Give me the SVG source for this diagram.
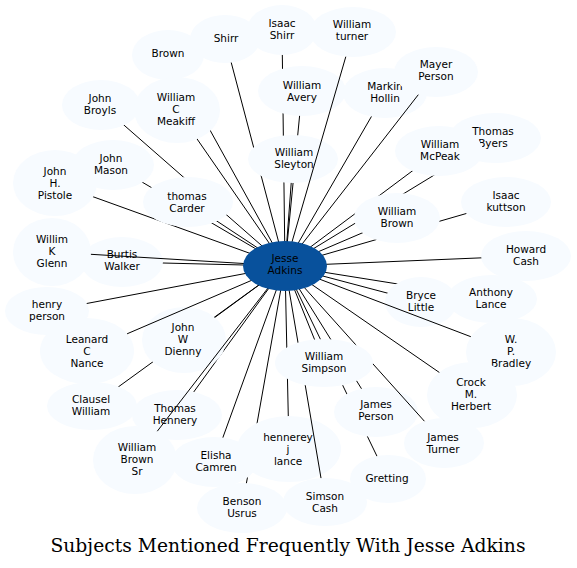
<svg xmlns="http://www.w3.org/2000/svg" width="577" height="568" viewBox="0 0 577 568">
<style>
.n ellipse{fill:#f7fbff;stroke:none}
#n_jesse ellipse{fill:#08519c}
text{font-family:"DejaVu Sans","Liberation Sans",sans-serif;font-size:10.5px;text-anchor:middle;fill:#000}
.e line{stroke:#000;stroke-width:1;fill:none}
.title{font-family:"DejaVu Serif","Liberation Serif",serif;font-size:18.5px}
</style>
<rect width="577" height="568" fill="#fff"/>
<g id="connectors" class="e">
<line x1="285" y1="266" x2="168" y2="54"/>
<line x1="285" y1="266" x2="225" y2="39"/>
<line x1="285" y1="266" x2="282" y2="30"/>
<line x1="285" y1="266" x2="302" y2="91"/>
<line x1="285" y1="266" x2="385" y2="93"/>
<line x1="285" y1="266" x2="101" y2="105"/>
<line x1="285" y1="266" x2="177" y2="110"/>
<line x1="285" y1="266" x2="293" y2="159"/>
<line x1="285" y1="266" x2="495" y2="138"/>
<line x1="285" y1="266" x2="439" y2="151"/>
<line x1="285" y1="266" x2="506" y2="202"/>
<line x1="285" y1="266" x2="113" y2="165"/>
<line x1="285" y1="266" x2="55" y2="183"/>
<line x1="285" y1="266" x2="188" y2="202"/>
<line x1="285" y1="266" x2="397" y2="218"/>
<line x1="285" y1="266" x2="526" y2="256"/>
<line x1="285" y1="266" x2="122" y2="262"/>
<line x1="285" y1="266" x2="47" y2="311"/>
<line x1="285" y1="266" x2="421" y2="302"/>
<line x1="285" y1="266" x2="492" y2="299"/>
<line x1="285" y1="266" x2="184" y2="340"/>
<line x1="285" y1="266" x2="324" y2="363"/>
<line x1="285" y1="266" x2="472" y2="395"/>
<line x1="285" y1="266" x2="92" y2="406"/>
<line x1="285" y1="266" x2="177" y2="415"/>
<line x1="285" y1="266" x2="376" y2="412"/>
<line x1="285" y1="266" x2="214" y2="462"/>
<line x1="285" y1="266" x2="289" y2="449"/>
<line x1="285" y1="266" x2="388" y2="479"/>
<line x1="285" y1="266" x2="242" y2="508"/>
</g>
<g id="n_brown" class="n"><ellipse cx="168" cy="55" rx="36" ry="25"/><text x="168" y="56.7">Brown</text></g>
<g id="n_shirr" class="n"><ellipse cx="225" cy="39" rx="35" ry="24"/><text x="226" y="41.7">Shirr</text></g>
<g id="n_isaac_shirr" class="n"><ellipse cx="282" cy="30" rx="35" ry="25"/><text x="282" y="26.7">Isaac</text><text x="282" y="38.7">Shirr</text></g>
<g id="n_william_turner" class="n"><ellipse cx="353" cy="32" rx="43" ry="25"/><text x="352" y="27.7">William</text><text x="352" y="39.7">turner</text></g>
<g id="n_william_avery" class="n"><ellipse cx="302" cy="91" rx="44" ry="25"/><text x="302" y="88.7">William</text><text x="302" y="100.7">Avery</text></g>
<g id="n_markin_hollin" class="n"><ellipse cx="385" cy="93" rx="42" ry="25"/><text x="385" y="89.7">Markin</text><text x="385" y="101.7">Hollin</text></g>
<g id="n_mayer_person" class="n"><ellipse cx="436" cy="72" rx="42" ry="25"/><text x="436" y="67.7">Mayer</text><text x="436" y="79.7">Person</text></g>
<g id="n_john_broyls" class="n"><ellipse cx="101" cy="105" rx="39" ry="25"/><text x="100" y="101.7">John</text><text x="100" y="113.7">Broyls</text></g>
<g id="n_william_c_meakiff" class="n"><ellipse cx="177" cy="110" rx="43" ry="33"/><text x="176" y="100.7">William</text><text x="176" y="112.7">C</text><text x="176" y="124.7">Meakiff</text></g>
<g id="n_william_sleyton" class="n"><ellipse cx="293" cy="159" rx="45" ry="24"/><text x="294" y="155.7">William</text><text x="294" y="167.7">Sleyton</text></g>
<g id="n_thomas_byers" class="n"><ellipse cx="495" cy="138" rx="46" ry="25"/><text x="493" y="134.7">Thomas</text><text x="493" y="146.7">Byers</text></g>
<g id="n_william_mcpeak" class="n"><ellipse cx="439" cy="151" rx="44" ry="25"/><text x="440" y="147.7">William</text><text x="440" y="159.7">McPeak</text></g>
<g id="n_isaac_kuttson" class="n"><ellipse cx="506" cy="202" rx="45" ry="25"/><text x="506" y="198.7">Isaac</text><text x="506" y="210.7">kuttson</text></g>
<g id="n_john_h_pistole" class="n"><ellipse cx="55" cy="183" rx="42" ry="33"/><text x="55" y="174.7">John</text><text x="55" y="186.7">H.</text><text x="55" y="198.7">Pistole</text></g>
<g id="n_john_mason" class="n"><ellipse cx="113" cy="165" rx="41" ry="25"/><text x="111" y="161.7">John</text><text x="111" y="173.7">Mason</text></g>
<g id="n_thomas_carder" class="n"><ellipse cx="188" cy="202" rx="45" ry="25"/><text x="187" y="199.7">thomas</text><text x="187" y="211.7">Carder</text></g>
<g id="n_william_brown" class="n"><ellipse cx="397" cy="218" rx="43" ry="25"/><text x="397" y="214.7">William</text><text x="397" y="226.7">Brown</text></g>
<g id="n_howard_cash" class="n"><ellipse cx="526" cy="256" rx="45" ry="25"/><text x="526" y="252.7">Howard</text><text x="526" y="264.7">Cash</text></g>
<g id="n_burtis_walker" class="n"><ellipse cx="122" cy="262" rx="41" ry="25"/><text x="122" y="257.7">Burtis</text><text x="122" y="269.7">Walker</text></g>
<g id="n_willim_k_glenn" class="n"><ellipse cx="52" cy="252" rx="39" ry="34"/><text x="52" y="242.7">Willim</text><text x="52" y="254.7">K</text><text x="52" y="266.7">Glenn</text></g>
<g id="n_henry_person" class="n"><ellipse cx="47" cy="311" rx="42" ry="24"/><text x="47" y="307.7">henry</text><text x="47" y="319.7">person</text></g>
<g id="n_anthony_lance" class="n"><ellipse cx="492" cy="299" rx="45" ry="24"/><text x="491" y="295.7">Anthony</text><text x="491" y="307.7">Lance</text></g>
<g id="n_bryce_little" class="n"><ellipse cx="421" cy="302" rx="36" ry="25"/><text x="421" y="298.7">Bryce</text><text x="421" y="310.7">Little</text></g>
<g id="n_w_p_bradley" class="n"><ellipse cx="511" cy="352" rx="45" ry="34"/><text x="511" y="342.7">W.</text><text x="511" y="354.7">P.</text><text x="511" y="366.7">Bradley</text></g>
<g id="n_leanard_c_nance" class="n"><ellipse cx="87" cy="351" rx="47" ry="33"/><text x="87" y="342.7">Leanard</text><text x="87" y="354.7">C</text><text x="87" y="366.7">Nance</text></g>
<g id="n_john_w_dienny" class="n"><ellipse cx="184" cy="340" rx="42" ry="33"/><text x="183" y="330.7">John</text><text x="183" y="342.7">W</text><text x="183" y="354.7">Dienny</text></g>
<g id="n_crock_m_herbert" class="n"><ellipse cx="472" cy="395" rx="45" ry="33"/><text x="471" y="385.7">Crock</text><text x="471" y="397.7">M.</text><text x="471" y="409.7">Herbert</text></g>
<g id="n_clausel_william" class="n"><ellipse cx="92" cy="406" rx="45" ry="24"/><text x="91" y="402.7">Clausel</text><text x="91" y="414.7">William</text></g>
<g id="n_thomas_hennery" class="n"><ellipse cx="177" cy="415" rx="45" ry="25"/><text x="175" y="411.7">Thomas</text><text x="175" y="423.7">Hennery</text></g>
<g id="n_james_person" class="n"><ellipse cx="376" cy="412" rx="42" ry="25"/><text x="376" y="407.7">James</text><text x="376" y="419.7">Person</text></g>
<g id="n_james_turner" class="n"><ellipse cx="444" cy="443" rx="40" ry="25"/><text x="443" y="440.7">James</text><text x="443" y="452.7">Turner</text></g>
<g id="n_william_brown_sr" class="n"><ellipse cx="135" cy="460" rx="42" ry="34"/><text x="137" y="450.7">William</text><text x="137" y="462.7">Brown</text><text x="137" y="474.7">Sr</text></g>
<g id="n_elisha_camren" class="n"><ellipse cx="214" cy="462" rx="43" ry="25"/><text x="216" y="458.7">Elisha</text><text x="216" y="470.7">Camren</text></g>
<g id="n_hennerey_j_lance" class="n"><ellipse cx="289" cy="449" rx="52" ry="33"/><text x="288" y="440.7">hennerey</text><text x="288" y="452.7">j</text><text x="288" y="464.7">lance</text></g>
<g id="n_gretting" class="n"><ellipse cx="388" cy="479" rx="38" ry="24"/><text x="387" y="481.7">Gretting</text></g>
<g id="n_benson_usrus" class="n"><ellipse cx="242" cy="508" rx="45" ry="25"/><text x="242" y="504.7">Benson</text><text x="242" y="516.7">Usrus</text></g>
<g id="n_simson_cash" class="n"><ellipse cx="325" cy="502" rx="42" ry="24"/><text x="325" y="499.7">Simson</text><text x="325" y="511.7">Cash</text></g>
<g id="connectors-front" class="e">
<line x1="285" y1="266" x2="90.9" y2="254.3"/>
<line x1="285" y1="266" x2="157.3" y2="431.2"/>
<line x1="285" y1="266" x2="321" y2="478.1"/>
<line x1="285" y1="266" x2="127.1" y2="333.8"/>
<line x1="285" y1="266" x2="470.8" y2="336.7"/>
<line x1="285" y1="266" x2="345.8" y2="56.7"/>
<line x1="285" y1="266" x2="418.3" y2="94.7"/>
<line x1="285" y1="266" x2="424.4" y2="421.2"/>
</g>
<g id="n_william_simpson" class="n"><ellipse cx="324" cy="363" rx="49" ry="24"/><text x="324" y="359.7">William</text><text x="324" y="371.7">Simpson</text></g>
<g id="n_jesse" class="n"><ellipse cx="285" cy="266" rx="42" ry="25"/><text x="285" y="261.7">Jesse</text><text x="285" y="273.7">Adkins</text></g>
<text class="title" x="288" y="552" textLength="475" lengthAdjust="spacingAndGlyphs">Subjects Mentioned Frequently With Jesse Adkins</text>
</svg>
